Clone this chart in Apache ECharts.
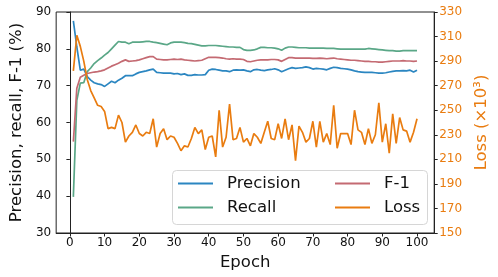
<!DOCTYPE html>
<html>
<head>
<meta charset="utf-8">
<script src="https://cdn.jsdelivr.net/npm/echarts@6/dist/echarts.min.js"></script>
<style>html,body{margin:0;padding:0;background:#fff;}#c{width:498px;height:277px;}</style>
</head>
<body>
<div id="c"></div>
<script>
const epochs = [1,2,3,4,5,6,7,8,9,10,11,12,13,14,15,16,17,18,19,20,21,22,23,24,25,26,27,28,29,30,31,32,33,34,35,36,37,38,39,40,41,42,43,44,45,46,47,48,49,50,51,52,53,54,55,56,57,58,59,60,61,62,63,64,65,66,67,68,69,70,71,72,73,74,75,76,77,78,79,80,81,82,83,84,85,86,87,88,89,90,91,92,93,94,95,96,97,98,99,100];
const precision = [87.6,80.5,74.2,74.5,72.5,71.5,70.8,70.5,70.3,69.8,70.5,71.2,70.8,71.5,72.0,72.7,72.7,72.7,73.2,73.6,73.8,74.0,74.3,74.5,73.6,73.5,73.4,73.4,73.4,73.2,73.3,73.0,73.2,72.8,72.8,73.0,72.9,72.9,73.0,74.2,74.5,74.4,74.2,74.0,74.0,73.8,74.2,74.3,74.2,74.3,74.0,73.8,74.3,74.4,74.2,74.1,74.3,74.4,74.6,74.3,73.8,74.2,74.6,74.9,74.7,74.8,74.9,75.1,74.9,74.5,74.7,74.6,74.5,74.3,74.7,75.0,74.9,74.7,74.6,74.5,74.3,74.0,73.8,73.7,73.6,73.6,73.6,73.5,73.4,73.4,73.5,73.7,73.9,74.0,74.0,74.1,74.0,74.2,73.7,74.2];
const recall = [39.8,66.0,70.7,70.8,73.8,74.8,76.0,76.8,77.5,78.3,79.0,80.0,81.0,82.0,81.8,81.8,81.4,81.8,81.8,81.8,81.9,82.0,82.0,81.8,81.7,81.5,81.3,81.1,81.6,81.8,81.8,81.8,81.7,81.5,81.4,81.2,81.0,80.8,80.8,80.9,80.9,80.9,80.8,80.7,80.6,80.5,80.5,80.4,80.4,79.8,79.6,79.6,79.7,80.0,80.4,80.4,80.3,80.3,80.2,80.0,79.6,80.2,80.5,80.5,80.4,80.3,80.3,80.3,80.2,80.2,80.2,80.2,80.2,80.1,80.1,80.1,80.0,79.9,79.9,79.9,79.9,79.9,79.9,79.9,79.9,80.1,80.0,79.9,79.8,79.7,79.6,79.5,79.5,79.4,79.4,79.5,79.5,79.5,79.5,79.5];
const f1 = [54.8,69.3,72.3,72.8,73.3,73.5,73.7,73.8,74.0,74.3,74.8,75.3,75.7,76.1,76.6,77.0,76.6,76.7,76.8,77.0,77.3,77.6,77.9,77.9,77.2,77.1,77.0,77.0,77.1,77.2,77.1,77.2,77.0,76.9,76.8,76.7,76.8,76.9,77.3,77.7,77.7,77.7,77.6,77.5,77.3,77.2,77.3,77.2,77.2,77.1,76.6,76.5,76.7,76.9,77.0,77.0,77.0,77.1,77.1,77.0,76.6,77.1,77.6,77.6,77.5,77.5,77.5,77.5,77.5,77.4,77.4,77.5,77.4,77.3,77.4,77.5,77.3,77.2,77.1,77.0,76.9,76.9,76.8,76.7,76.6,76.6,76.5,76.5,76.4,76.4,76.5,76.6,76.7,76.7,76.7,76.8,76.7,76.7,76.6,76.7];
const loss = [282,311,302,290,275,266,260,254,253,249,235,236,235,246,240,224,229,232,238,231,229,232,231,243,220,231,235,226,229,228,223,217,221,220,227,236,231,234,218,228,229,212,250,220,228,255,226,227,236,224,227,221,231,228,223,232,241,227,226,239,227,243,226,238,209,237,232,224,227,241,220,241,224,231,222,254,219,231,231,231,222,250,234,232,222,235,223,230,256,224,239,215,247,223,244,234,233,224,232,243];
const xTicks = [0,10,20,30,40,50,60,70,80,90,100];
const lossTicks = [150,170,190,210,230,250,270,290,310,330];

const FONT = 'DejaVu Sans';
const ORANGE = '#e97c10';
const zip = (xs, ys) => xs.map((x, i) => [x, ys[i]]);

const chart = echarts.init(document.getElementById('c'), null, {renderer: 'canvas'});
chart.setOption({
  animation: false,
  backgroundColor: '#fff',
  textStyle: {fontFamily: FONT},
  grid: {left: 47, right: 62, top: 12, bottom: 44, show: true, borderColor: '#222', borderWidth: 1, backgroundColor: 'transparent'},
  xAxis: {
    type: 'value', min: -3.95, max: 104.95,
    name: 'Epoch', nameLocation: 'middle', nameGap: 17,
    nameTextStyle: {fontSize: 16.5, color: '#111', fontFamily: FONT, verticalAlign: 'top'},
    axisLine: {show: true, lineStyle: {color: '#222', width: 1}},
    axisTick: {show: true, length: 3.5, lineStyle: {color: '#222'}, customValues: xTicks},
    axisLabel: {fontSize: 12, color: '#111', margin: 4, fontFamily: FONT, customValues: xTicks},
    splitLine: {show: false}
  },
  yAxis: [{
    type: 'value', min: 30, max: 90, interval: 10, position: 'left',
    name: 'Precision, recall, F-1 (%)', nameLocation: 'middle', nameGap: 25,
    nameTextStyle: {fontSize: 16.5, color: '#111', fontFamily: FONT},
    axisLine: {show: true, lineStyle: {color: '#222', width: 1}},
    axisTick: {show: true, length: 3.5, lineStyle: {color: '#222'}},
    axisLabel: {fontSize: 12, color: '#111', margin: 5, fontFamily: FONT},
    splitLine: {show: false}
  }, {
    type: 'value', min: 150, max: 330, position: 'right',
    name: 'Loss (×10³)', nameLocation: 'middle', nameGap: 33,
    nameTextStyle: {fontSize: 16.5, color: ORANGE, fontFamily: FONT},
    axisLine: {show: true, lineStyle: {color: '#222', width: 1}},
    axisTick: {show: true, length: 3.5, lineStyle: {color: '#222'}, customValues: lossTicks},
    axisLabel: {fontSize: 12, color: ORANGE, margin: 5, fontFamily: FONT, customValues: lossTicks},
    splitLine: {show: false}
  }],
  legend: [{
    orient: 'vertical', left: 178, top: 174, padding: 0, itemGap: 5,
    icon: 'rect', itemWidth: 35, itemHeight: 2,
    data: ['Precision', 'Recall'],
    textStyle: {fontSize: 16.5, color: '#111', fontFamily: FONT, padding: [0, 0, 0, 9], lineHeight: 19}
  }, {
    orient: 'vertical', left: 335, top: 174, padding: 0, itemGap: 5,
    icon: 'rect', itemWidth: 35, itemHeight: 2,
    data: ['F-1', 'Loss'],
    textStyle: {fontSize: 16.5, color: '#111', fontFamily: FONT, padding: [0, 0, 0, 9], lineHeight: 19}
  }],
  graphic: [{
    type: 'rect', z: 1, left: 172, top: 170,
    shape: {width: 255, height: 54, r: 4},
    style: {fill: 'rgba(255,255,255,0.8)', stroke: '#d6d6d6', lineWidth: 1}
  }],
  series: [
    {name: 'Precision', type: 'line', yAxisIndex: 0, data: zip(epochs, precision), symbol: 'none', lineStyle: {width: 1.7, color: '#2b86c1'}, itemStyle: {color: '#2b86c1'}, z: 3},
    {name: 'Recall', type: 'line', yAxisIndex: 0, data: zip(epochs, recall), symbol: 'none', lineStyle: {width: 1.7, color: '#5aa787'}, itemStyle: {color: '#5aa787'}, z: 3},
    {name: 'F-1', type: 'line', yAxisIndex: 0, data: zip(epochs, f1), symbol: 'none', lineStyle: {width: 1.7, color: '#c46a72'}, itemStyle: {color: '#c46a72'}, z: 3},
    {name: 'Loss', type: 'line', yAxisIndex: 1, data: zip(epochs, loss), symbol: 'none', lineStyle: {width: 1.7, color: ORANGE}, itemStyle: {color: ORANGE}, z: 3}
  ]
});
</script>
</body>
</html>
